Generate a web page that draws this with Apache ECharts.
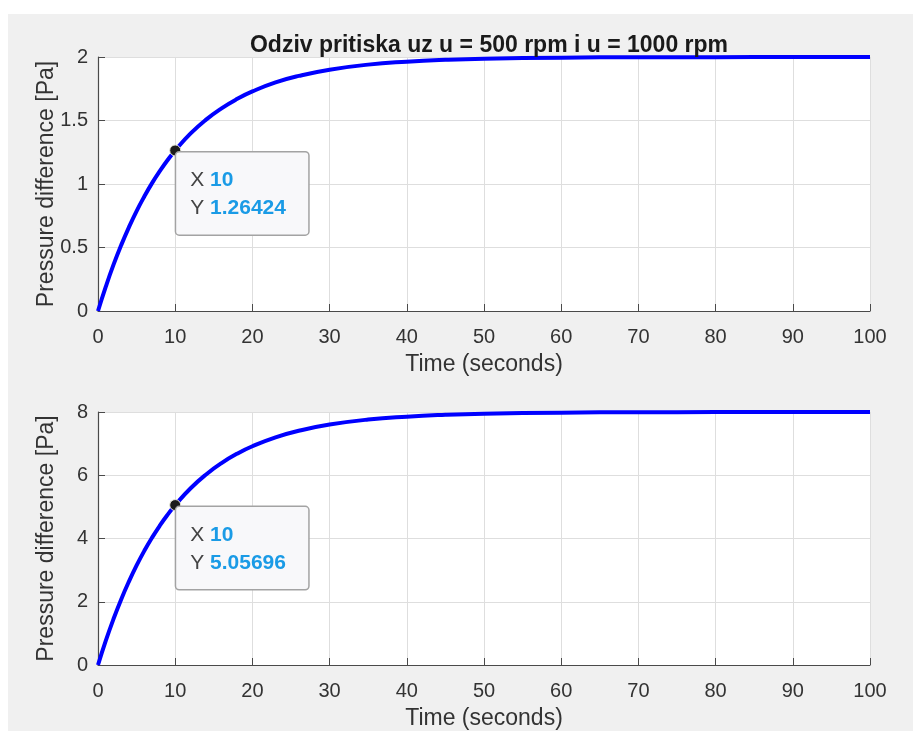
<!DOCTYPE html>
<html>
<head>
<meta charset="utf-8">
<script src="https://cdn.jsdelivr.net/npm/echarts@6/dist/echarts.min.js"></script>
<style>html,body{margin:0;padding:0;background:#fff}#c{width:913px;height:731px}</style>
</head>
<body>
<div id="c"></div>
<script>
const titleText = 'Odziv pritiska uz u = 500 rpm i u = 1000 rpm';
const xLabel = 'Time (seconds)';
const yLabel = 'Pressure difference [Pa]';
const time = [0,1,2,3,4,5,6,7,8,9,10,12,14,16,18,20,23,26,30,35,40,45,50,60,70,80,90,100];
const pressure500 = [0,0.190,0.363,0.518,0.659,0.787,0.902,1.007,1.101,1.187,1.264,1.398,1.507,1.596,1.669,1.729,1.800,1.851,1.900,1.940,1.963,1.978,1.987,1.995,1.998,1.999,2.0,2.0];
const pressure1000 = [0,0.761,1.450,2.074,2.637,3.148,3.610,4.027,4.405,4.747,5.057,5.590,6.026,6.385,6.678,6.917,7.199,7.406,7.602,7.761,7.853,7.911,7.946,7.980,7.993,7.997,7.999,8.0];
const tipX = [10, 10];
const tipY = [1.26424, 5.05696];
const yMax = [2, 8];
const yInterval = [0.5, 2];

const chart = echarts.init(document.getElementById('c'));
const font = 'Liberation Sans, Arial, sans-serif';
const txt = '#333333';
const axisColor = '#4a4a4a';

function xAxis(i){
  return {
    gridIndex:i, type:'value', min:0, max:100, interval:10,
    name:xLabel, nameLocation:'middle', nameGap:42, nameMoveOverlap:false,
    nameTextStyle:{color:txt, fontSize:23, fontFamily:font},
    axisLine:{show:true, lineStyle:{color:axisColor, width:1.2}},
    axisTick:{show:true, inside:true, length:7, lineStyle:{color:axisColor}},
    axisLabel:{color:txt, fontSize:20, fontFamily:font, margin:16},
    splitLine:{show:true, lineStyle:{color:'#dedede', width:1}}
  };
}
function yAxis(i){
  return {
    gridIndex:i, type:'value', min:0, max:yMax[i], interval:yInterval[i],
    name:yLabel, nameLocation:'middle', nameGap:40, nameMoveOverlap:false,
    nameTextStyle:{color:txt, fontSize:23, fontFamily:font},
    axisLine:{show:true, lineStyle:{color:axisColor, width:1.2}},
    axisTick:{show:true, inside:true, length:7, lineStyle:{color:axisColor}},
    axisLabel:{color:txt, fontSize:20, fontFamily:font, margin:10},
    splitLine:{show:true, lineStyle:{color:'#dedede', width:1}}
  };
}
function series(i, data){
  return {
    type:'line', xAxisIndex:i, yAxisIndex:i, smooth:true, symbol:'none',
    data: time.map((t,k)=>[t,data[k]]),
    lineStyle:{color:'#0000ff', width:4},
    z:3,
    markPoint:{
      symbol:'circle', symbolSize:11,
      itemStyle:{color:'#1c1c1c', borderColor:'#e8e8d8', borderWidth:1},
      data:[{coord:[tipX[i], tipY[i]]}],
      label:{
        show:true, position:[7,8],
        formatter:'{k|X }{v|' + tipX[i] + '}\n{k|Y }{v|' + tipY[i] + '}',
        backgroundColor:'#f8f8fa', borderColor:'#a3a3a3', borderWidth:1.5, borderRadius:3,
        padding:[14,6,12,14], width:112, align:'left',
        rich:{
          k:{color:'#444', fontSize:21, fontFamily:font, lineHeight:28},
          v:{color:'#1a9be6', fontSize:21, fontWeight:'bold', fontFamily:font, lineHeight:28}
        }
      }
    }
  };
}

chart.setOption({
  backgroundColor:'#ffffff',
  animation:false,
  graphic:[{type:'rect', shape:{x:8, y:14, width:905, height:717}, style:{fill:'#f0f0f0'}, z:-10, silent:true}],
  title:{text:titleText, left:484, textAlign:'center', top:29,
    textStyle:{fontSize:23, fontWeight:'bold', color:'#1a1a1a', fontFamily:font}},
  grid:[
    {left:98, right:43, top:57, height:254, show:true, backgroundColor:'#ffffff', borderWidth:0},
    {left:98, right:43, top:412, height:253, show:true, backgroundColor:'#ffffff', borderWidth:0}
  ],
  xAxis:[xAxis(0), xAxis(1)],
  yAxis:[yAxis(0), yAxis(1)],
  series:[series(0, pressure500), series(1, pressure1000)]
});
</script>
</body>
</html>
